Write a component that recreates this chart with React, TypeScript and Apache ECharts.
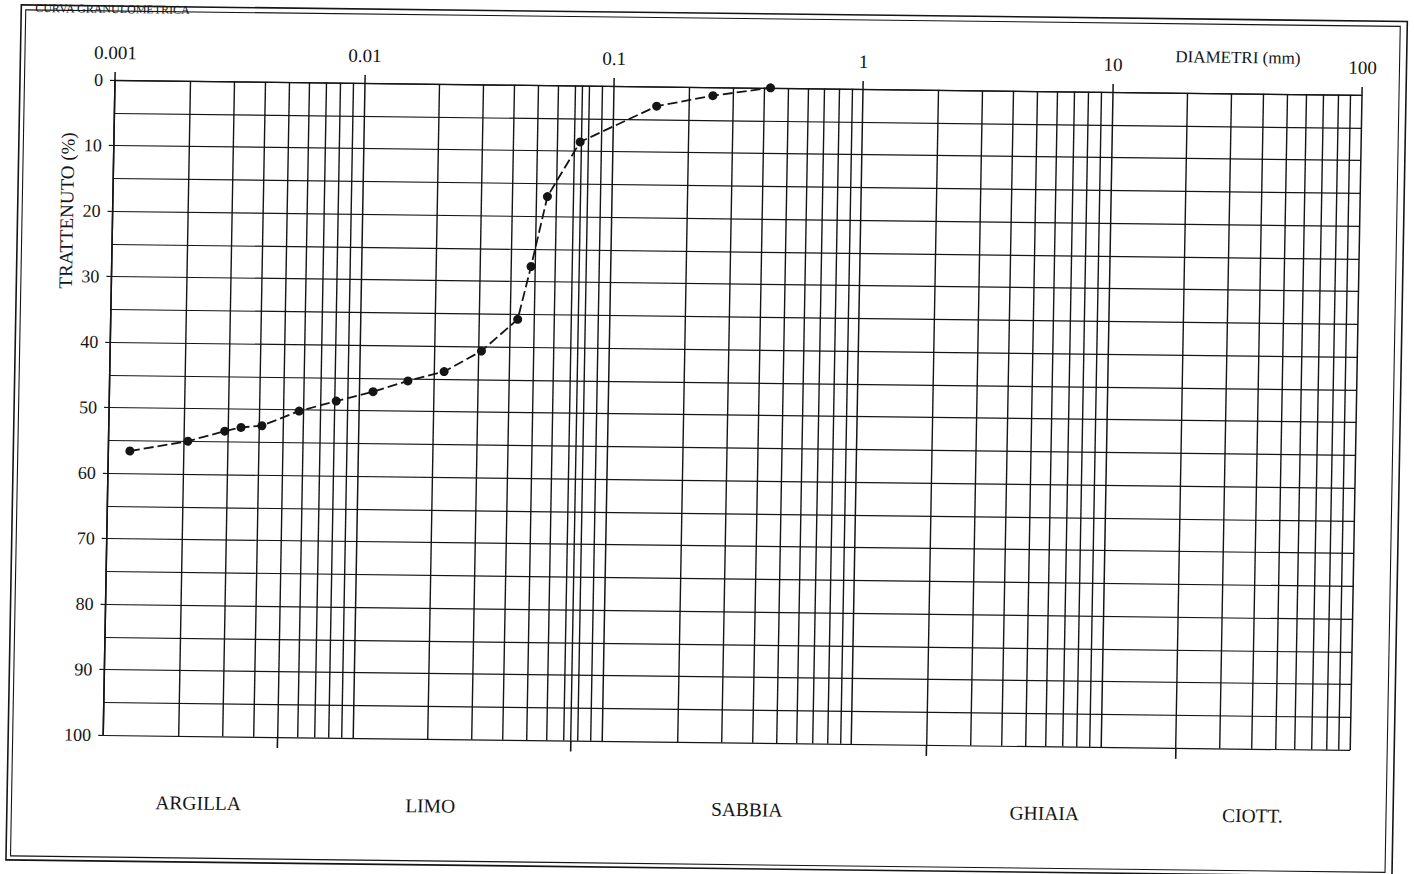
import React, { useEffect, useRef } from 'react';
import * as echarts from 'echarts';

// ---- data ----
const diameters = [0.00122, 0.00208, 0.00292, 0.00339, 0.00411, 0.00578, 0.00813, 0.0114, 0.0157, 0.0219, 0.0308, 0.0428, 0.048, 0.0552, 0.074, 0.149, 0.25, 0.425];
const retained = [56.6, 55.0, 53.4, 52.8, 52.5, 50.2, 48.6, 47.1, 45.4, 43.9, 40.7, 35.8, 27.7, 17.0, 8.6, 3.0, 1.3, 0.0];

const xTickLabels = ['0.001', '0.01', '0.1', '1', '10', '100'];
const decades = [0.001, 0.01, 0.1, 1, 10];
const minorMultipliers = [2, 3, 4, 5, 6, 7, 8, 9];
const extraLines = [0.075];
const classBounds = [0.005, 0.075, 2, 20];
const classNames = ['ARGILLA', 'LIMO', 'SABBIA', 'GHIAIA', 'CIOTT.'];
const classLabelAt = [0.00243, 0.0207, 0.385, 6, 41];
const titleText = 'CURVA GRANULOMETRICA';
const xAxisName = 'DIAMETRI (mm)';
const xAxisNameAt = 31.6;
const yAxisName = 'TRATTENUTO (%)';

const INK = '#151515';
const FONT = '"Liberation Serif", "DejaVu Serif", serif';

export default function App() {
  const ref = useRef<HTMLDivElement>(null);

  useEffect(() => {
    const el = ref.current;
    if (!el) return;
    const chart = echarts.init(el, null, { renderer: 'svg' });

    const minorLines: number[] = [];
    decades.forEach((d) => minorMultipliers.forEach((m) => minorLines.push(+(d * m).toPrecision(6))));
    extraLines.forEach((v) => minorLines.push(v));

    chart.setOption({
      animation: false,
      backgroundColor: '#ffffff',
      grid: { left: 115, top: 80, width: 1247, height: 655, containLabel: false },
      xAxis: {
        type: 'log',
        logBase: 10,
        min: 0.001,
        max: 100,
        position: 'top',
        axisLine: { show: true, onZero: false, lineStyle: { color: INK, width: 1.3 } },
        axisTick: { show: true, inside: false, length: 8, lineStyle: { color: INK, width: 1.5 } },
        axisLabel: {
          show: true,
          margin: 18,
          color: INK,
          fontFamily: FONT,
          fontSize: 19,
          formatter: (v: number) => xTickLabels[Math.round(Math.log10(v)) + 3] ?? '',
        },
        splitLine: { show: true, lineStyle: { color: INK, width: 1.5 } },
        minorTick: { show: false },
        minorSplitLine: { show: false },
      },
      yAxis: {
        type: 'value',
        inverse: true,
        min: 0,
        max: 100,
        interval: 10,
        position: 'left',
        axisLine: { show: true, onZero: false, lineStyle: { color: INK, width: 1.5 } },
        axisTick: { show: true, inside: false, length: 5, lineStyle: { color: INK, width: 1.2 } },
        axisLabel: { show: true, margin: 12, color: INK, fontFamily: FONT, fontSize: 18 },
        splitLine: { show: true, lineStyle: { color: INK, width: 1.2 } },
        minorTick: { show: false, splitNumber: 2 },
        minorSplitLine: { show: true, lineStyle: { color: INK, width: 1.2 } },
      },
      series: [
        {
          type: 'line',
          data: diameters.map((d, i) => [d, retained[i]]),
          symbol: 'circle',
          symbolSize: 9,
          itemStyle: { color: INK },
          lineStyle: { color: INK, width: 1.8, type: [10, 4] },
          z: 5,
          markLine: {
            silent: true,
            precision: 8,
            symbol: 'none',
            label: { show: false },
            lineStyle: { type: 'solid', color: INK, width: 1.4 },
            data: minorLines.map((v) => ({ xAxis: v })),
            z: 1,
          },
        },
      ],
    });

    const px = (d: number) => chart.convertToPixel({ xAxisIndex: 0 }, d) as number;
    const py = (p: number) => chart.convertToPixel({ yAxisIndex: 0 }, p) as number;
    const yTop = py(0);
    const yBottom = py(100);

    const textStyle = (text: string, x: number, y: number, size: number, align = 'center', vAlign = 'middle') => ({
      text,
      x,
      y,
      fill: INK,
      font: `${size}px ${FONT}`,
      fontSize: size,
      fontFamily: FONT,
      align,
      textAlign: align,
      verticalAlign: vAlign,
      textVerticalAlign: vAlign,
    });

    const elements: any[] = [];
    // outer double frame
    elements.push({ type: 'rect', shape: { x: 20, y: 6, width: 1386, height: 855 }, style: { fill: 'none', stroke: INK, lineWidth: 1.6 }, silent: true });
    elements.push({ type: 'rect', shape: { x: 24.5, y: 11, width: 1374.5, height: 846 }, style: { fill: 'none', stroke: INK, lineWidth: 1.1 }, silent: true });
    // title at the very top of the sheet
    elements.push({ type: 'text', style: textStyle(titleText, 34, 3, 12, 'left', 'top'), silent: true });
    // axis names
    elements.push({ type: 'text', style: textStyle(xAxisName, px(xAxisNameAt), yTop - 36, 17), silent: true });
    elements.push({ type: 'text', x: 69, y: 211, rotation: Math.PI / 2, style: textStyle(yAxisName, 0, 0, 19), silent: true });
    // class boundary ticks below the grid
    classBounds.forEach((b) => {
      const x = px(b);
      elements.push({ type: 'line', shape: { x1: x, y1: yBottom, x2: x, y2: yBottom + 11 }, style: { stroke: INK, lineWidth: 1.6 }, silent: true });
    });
    // class names
    classNames.forEach((n, i) => {
      elements.push({ type: 'text', style: textStyle(n, px(classLabelAt[i]), yBottom + 67, 19.5), silent: true });
    });

    chart.setOption({ graphic: { elements } });

    return () => chart.dispose();
  }, []);

  return (
    <div style={{ position: 'fixed', left: 0, top: 0, width: 1414, height: 874, background: '#ffffff', overflow: 'hidden' }}>
      <div
        ref={ref}
        style={{
          width: 1414,
          height: 874,
          transform: 'matrix(1, 0.012, -0.018, 1, 0, 0)',
          transformOrigin: '115px 80px',
        }}
      />
    </div>
  );
}
